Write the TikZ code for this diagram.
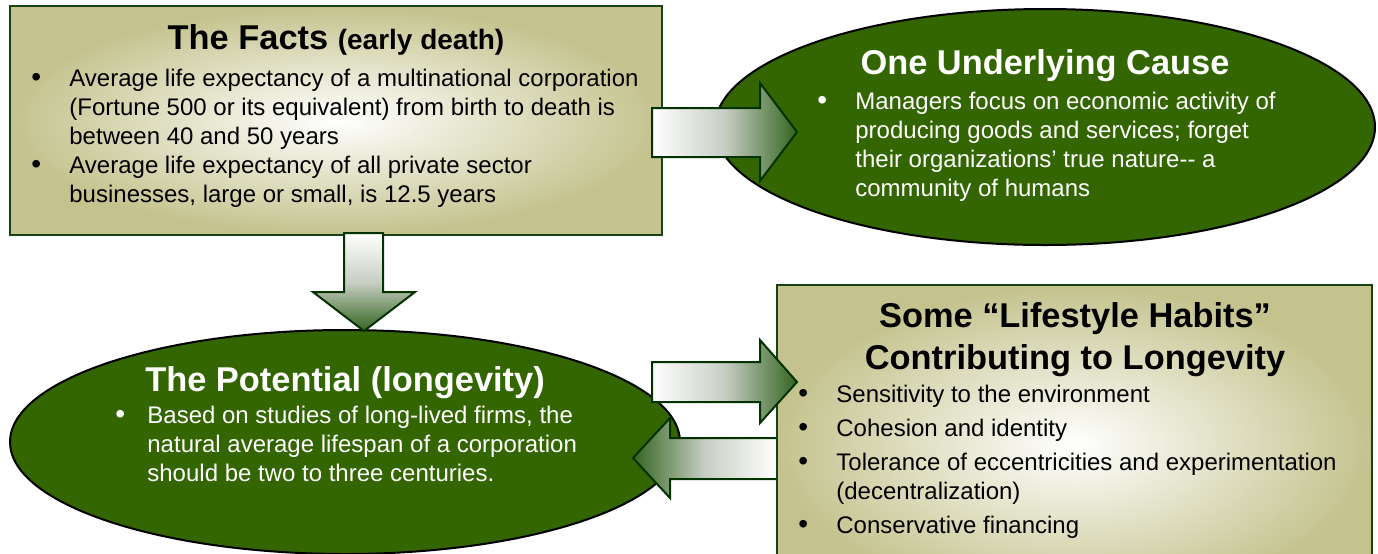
\documentclass[tikz,border=0pt]{standalone}
\usepackage{fontspec}
\setmainfont{Liberation Sans}
\usetikzlibrary{shapes.geometric}
\definecolor{olivebox}{RGB}{196,195,142}
\definecolor{boxborder}{RGB}{22,66,22}
\definecolor{ellgreen}{RGB}{51,102,0}
\definecolor{agreen}{RGB}{52,100,32}
\definecolor{agray}{RGB}{200,206,196}
\definecolor{aborder}{RGB}{0,51,0}
\newcommand\bodyfont{\fontsize{12}{14.5}\selectfont}
\newcommand\titlefont{\fontsize{17.2}{21}\selectfont\bfseries}
\newlength\bind
\newcommand\bitem[1]{\par\noindent\hangindent=\bind\hangafter=1\makebox[\bind][l]{{\fontsize{14}{14}\selectfont\textbullet}}#1}
\newcommand\gap{\par\vspace{2.5pt}}
\newenvironment{blist}[1]{\begin{minipage}[t]{330pt}\bodyfont\setlength\bind{#1}\rightskip=0pt plus 1fil\relax}{\end{minipage}}
\tikzset{
  factbox/.style={rectangle, draw=boxborder, line width=1pt, inner color=white, outer color=olivebox},
  greenell/.style={ellipse, draw=black, line width=1pt, fill=ellgreen, inner sep=0pt},
  blockarrowh/.style={draw=aborder, line width=1pt, left color=white, right color=agreen, middle color=agray},
  blockarrowl/.style={draw=aborder, line width=1pt, left color=agreen, right color=white, middle color=agray},
  blockarrowv/.style={draw=aborder, line width=1pt, top color=white, bottom color=agreen, middle color=agray},
  ttl/.style={anchor=base, inner sep=0pt, font=\titlefont, align=center},
  body/.style={anchor=base west, inner sep=0pt},
}
\begin{document}
\begin{tikzpicture}[x=0.5pt, y=-0.5pt]
\useasboundingbox (0,0) rectangle (1378,553);
\clip (0,0) rectangle (1378,553);
% Facts box
\node[factbox, minimum width=326pt, minimum height=114.5pt] (facts) at (336,120.5) {};
% upper ellipse
\node[greenell, minimum width=330pt, minimum height=118pt] (cause) at (1045,127) {};
% arrow facts -> cause
\draw[blockarrowh] (652,108) -- (760,108) -- (760,83) -- (797,132) -- (760,181) -- (760,157) -- (652,157) -- cycle;
% lower ellipse
\node[greenell, minimum width=335pt, minimum height=112pt] (potential) at (345,442) {};
% down arrow
\draw[blockarrowv] (344,233) -- (383,233) -- (383,292) -- (415,292) -- (364,331) -- (313,292) -- (344,292) -- cycle;
% left arrow habits -> potential
\draw[blockarrowl] (777,438) -- (670,438) -- (670,418) -- (633,458) -- (670,498) -- (670,479) -- (777,479) -- cycle;
% habits box
\node[factbox, minimum width=297.5pt, minimum height=160pt] (habits) at (1074.5,445) {};
% right arrow potential -> habits
\draw[blockarrowh] (652,362) -- (760,362) -- (760,340) -- (797,382) -- (760,423) -- (760,402) -- (652,402) -- cycle;

% texts
\node[ttl] (factsttl) at (336,49) {The Facts \fontsize{14}{17}\selectfont(early death)};
\node[body] (factsbody) at (31,86) {\begin{blist}{19pt}%
\bitem{Average life expectancy of a multinational corporation\newline(Fortune 500 or its equivalent) from birth to death is\newline between 40 and 50 years}
\bitem{Average life expectancy of all private sector\newline businesses, large or small, is 12.5 years}
\end{blist}};

\node[ttl, text=white] (causettl) at (1045,74) {One Underlying Cause};
\node[body, text=white] (causebody) at (817,109) {\begin{blist}{19pt}%
\bitem{Managers focus on economic activity of\newline producing goods and services; forget\newline their organizations’ true nature-{}- a\newline community of humans}
\end{blist}};

\node[ttl, text=white] (potttl) at (345,391) {The Potential (longevity)};
\node[body, text=white] (potbody) at (115,423) {\begin{blist}{16pt}%
\bitem{Based on studies of long-lived firms, the\newline natural average lifespan of a corporation\newline should be two to three centuries.}
\end{blist}};

\node[ttl] (habttl) at (1075,369) {Some “Lifestyle Habits”\\Contributing to Longevity};
\node[body] (habbody) at (798,402) {\begin{blist}{19pt}%
\bitem{Sensitivity to the environment}\gap
\bitem{Cohesion and identity}\gap
\bitem{Tolerance of eccentricities and experimentation\newline(decentralization)}\gap
\bitem{Conservative financing}
\end{blist}};
\end{tikzpicture}
\end{document}
